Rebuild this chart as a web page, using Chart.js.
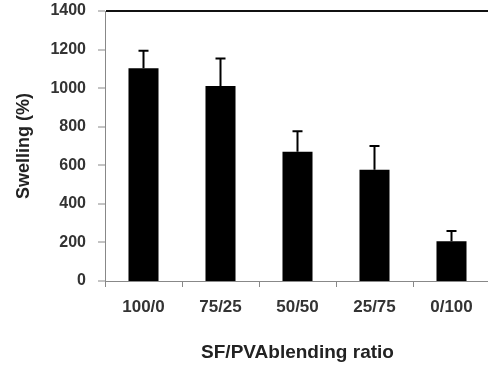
<!DOCTYPE html>
<html>
<head>
<meta charset="utf-8">
<script src="https://cdn.jsdelivr.net/npm/chart.js@4.4.1/dist/chart.umd.min.js"></script>
<style>
  body { margin: 0; background: #fff; overflow: hidden; }
</style>
</head>
<body>
<canvas id="myChart" width="490" height="366"></canvas>
<script>
const ratios = ['100/0', '75/25', '50/50', '25/75', '0/100'];
const swelling = [1103, 1011, 670, 577, 206];
const swellingSD = [91, 143, 106, 123, 53];
const yTicks = [0, 200, 400, 600, 800, 1000, 1200, 1400];

// draws upper error bars on top of each bar
const errorBars = {
    id: 'errorBars',
    afterDatasetsDraw(chart) {
        const ctx = chart.ctx;
        const yScale = chart.scales.y;
        const meta = chart.getDatasetMeta(0);
        ctx.save();
        ctx.strokeStyle = '#000';
        ctx.lineWidth = 2;
        meta.data.forEach((bar, i) => {
            const top = yScale.getPixelForValue(swelling[i] + swellingSD[i]);
            const base = yScale.getPixelForValue(swelling[i]);
            ctx.beginPath();
            ctx.moveTo(bar.x, base);
            ctx.lineTo(bar.x, top);
            ctx.moveTo(bar.x - 5, top);
            ctx.lineTo(bar.x + 5, top);
            ctx.stroke();
        });
        ctx.restore();
    }
};

const ctx = document.getElementById('myChart').getContext('2d');
const myChart = new Chart(ctx, {
    type: 'bar',
    data: {
        labels: ratios,
        datasets: [{
            label: 'Swelling',
            data: swelling,
            backgroundColor: '#000',
            borderWidth: 0,
            categoryPercentage: 1,
            barPercentage: 0.39
        }]
    },
    options: {
        responsive: false,
        animation: false,
        layout: { padding: { top: 11, right: 0, left: 0, bottom: 0 } },
        plugins: { legend: { display: false }, tooltip: { enabled: false } },
        scales: {
            x: {
                grid: {
                    offset: true,
                    drawOnChartArea: false,
                    tickLength: 6,
                    tickColor: '#888',
                    tickWidth: 1
                },
                border: { color: '#888', width: 1 },
                ticks: {
                    color: '#333',
                    padding: 10,
                    maxRotation: 0,
                    font: { family: 'Liberation Sans', size: 17, weight: 'bold' }
                },
                title: {
                    display: true,
                    text: 'SF/PVAblending ratio',
                    color: '#222',
                    padding: { top: 0, bottom: 2 },
                    font: { family: 'Liberation Sans', size: 19, weight: 'bold' }
                },
                afterFit(scale) {
                    scale.height = 85;
                    scale.paddingLeft = 0;
                    scale.paddingRight = 0;
                }
            },
            y: {
                min: 0,
                max: 1400,
                afterBuildTicks(scale) { scale.ticks = yTicks.map(v => ({ value: v })); },
                grid: {
                    color: c => c.tick && c.tick.value === 1400 ? '#111' : 'rgba(0,0,0,0)',
                    lineWidth: c => c.tick && c.tick.value === 1400 ? 2 : 0,
                    tickColor: '#888',
                    tickLength: 7,
                    tickWidth: 1
                },
                border: { color: '#888', width: 1 },
                ticks: {
                    color: '#333',
                    padding: 12,
                    callback: v => String(v),
                    font: { family: 'Liberation Sans', size: 16, weight: 'bold' }
                },
                title: {
                    display: true,
                    text: 'Swelling (%)',
                    color: '#222',
                    padding: { top: 13, bottom: 0 },
                    font: { family: 'Liberation Sans', size: 18, weight: 'bold' }
                },
                afterFit(scale) {
                    scale.width = 105;
                    scale.paddingTop = 0;
                    scale.paddingBottom = 0;
                }
            }
        }
    },
    plugins: [errorBars]
});
</script>
</body>
</html>
